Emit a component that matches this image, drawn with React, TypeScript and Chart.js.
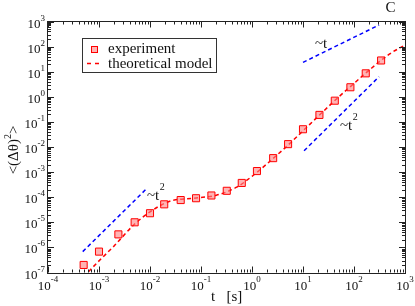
import React, { useEffect, useRef } from "react";
import { Chart, registerables } from "chart.js";

Chart.register(...registerables);

// ---- data ----
const expT = [5e-4, 1e-3, 2.4e-3, 5e-3, 1e-2, 1.9e-2, 4e-2, 8e-2, 0.16, 0.32, 0.63, 1.25, 2.6, 5.1, 10, 21, 42, 85, 170, 340];
const expY = [2e-7, 6.8e-7, 3.3e-6, 1e-5, 2.3e-5, 5.2e-5, 7.7e-5, 9.1e-5, 1.17e-4, 1.8e-4, 3.7e-4, 1.1e-3, 3.6e-3, 1.3e-2, 5.1e-2, 0.19, 0.7, 2.4, 8.6, 28];

const modelT = [5e-4, 1e-3, 2e-3, 5e-3, 1e-2, 2e-2, 3e-2, 5e-2, 0.1, 0.2, 0.5, 1, 2, 5, 10, 20, 50, 100, 200, 500, 1000];
const modelY = [6.8e-8, 2.9e-7, 1.17e-6, 8.5e-6, 2.6e-5, 5.9e-5, 7.8e-5, 8.5e-5, 9.8e-5, 1.2e-4, 2.5e-4, 6.8e-4, 2.2e-3, 1.15e-2, 4.4e-2, 0.17, 0.98, 3.4, 11.7, 51, 115];

const guide1T = [4.8e-4, 8.8e-3];
const guide1Y = [6.8e-7, 2.3e-4];
const guide2T = [10, 310];
const guide2Y = [23.5, 725];
const guide3T = [10.5, 310];
const guide3Y = [7.1e-3, 6.3];

const xTickExps = [-4, -3, -2, -1, 0, 1, 2, 3];
const yTickExps = [-7, -6, -5, -4, -3, -2, -1, 0, 1, 2, 3];

const seriesLabels = ["experiment", "theoretical model"];
const xTitle = ["t", "[s]"];
const yTitleParts = ["<(\u0394\u03b8)", "2", ">"];
const panelLabel = "C";

const pairs = (xs: number[], ys: number[]) => xs.map((x, i) => ({ x, y: ys[i] }));

const SERIF = "'Liberation Serif', 'DejaVu Serif', serif";
const RED = "#ff0000";
const BLUE = "#0000ff";
const PINK = "rgba(255, 130, 130, 0.6)";

const framePlugin = {
  id: "framePlugin",
  afterDraw(chart: any) {
    const { ctx, chartArea: a, scales } = chart;
    const xs = scales.x;
    const ys = scales.y;
    ctx.save();
    // frame
    ctx.strokeStyle = "#222";
    ctx.lineWidth = 1;
    ctx.strokeRect(Math.round(a.left) - 0.5, Math.round(a.top) - 0.5, Math.round(a.right - a.left) + 1, Math.round(a.bottom - a.top) + 1);

    // ticks
    ctx.beginPath();
    for (const e of xTickExps) {
      for (let m = 1; m <= 9; m++) {
        const v = m * Math.pow(10, e);
        if (v < xs.min * 0.999 || v > xs.max * 1.001) continue;
        const px = Math.round(xs.getPixelForValue(v)) + 0.5;
        const len = m === 1 ? 6 : 3;
        ctx.moveTo(px, a.bottom);
        ctx.lineTo(px, a.bottom - len);
        ctx.moveTo(px, a.top);
        ctx.lineTo(px, a.top + len);
      }
    }
    for (const e of yTickExps) {
      for (let m = 1; m <= 9; m++) {
        const v = m * Math.pow(10, e);
        if (v < ys.min * 0.999 || v > ys.max * 1.001) continue;
        const py = Math.round(ys.getPixelForValue(v)) + 0.5;
        const len = m === 1 ? 6 : 3;
        ctx.moveTo(a.left, py);
        ctx.lineTo(a.left + len, py);
        ctx.moveTo(a.right, py);
        ctx.lineTo(a.right - len, py);
      }
    }
    ctx.stroke();

    // tick labels
    ctx.fillStyle = "#111";
    ctx.textBaseline = "alphabetic";
    ctx.textAlign = "left";
    const big = `13px ${SERIF}`;
    const small = `9px ${SERIF}`;
    for (const e of xTickExps) {
      const px = xs.getPixelForValue(Math.pow(10, e));
      ctx.font = big;
      const w10 = ctx.measureText("10").width;
      ctx.font = small;
      const ex = String(e);
      const we = ctx.measureText(ex).width;
      const sx = px - (w10 + we) / 2;
      ctx.font = big;
      ctx.fillText("10", sx, a.bottom + 17);
      ctx.font = small;
      ctx.fillText(ex, sx + w10, a.bottom + 9);
    }
    for (const e of yTickExps) {
      const py = ys.getPixelForValue(Math.pow(10, e));
      ctx.font = big;
      const w10 = ctx.measureText("10").width;
      ctx.font = small;
      const ex = String(e);
      const we = ctx.measureText(ex).width;
      const sx = a.left - 3 - (w10 + we);
      ctx.font = big;
      ctx.fillText("10", sx, py + 6);
      ctx.font = small;
      ctx.fillText(ex, sx + w10, py - 1);
    }

    // axis titles
    ctx.font = `15px ${SERIF}`;
    ctx.fillText(xTitle[0], 211, 301);
    ctx.fillText(xTitle[1], 226.5, 301);

    ctx.save();
    ctx.translate(18, 150);
    ctx.rotate(-Math.PI / 2);
    ctx.font = `15px ${SERIF}`;
    const w1 = ctx.measureText(yTitleParts[0]).width;
    const w3 = ctx.measureText(yTitleParts[2]).width;
    ctx.font = `10px ${SERIF}`;
    const w2 = ctx.measureText(yTitleParts[1]).width;
    let sx = -(w1 + w2 + w3) / 2;
    ctx.font = `15px ${SERIF}`;
    ctx.fillText(yTitleParts[0], sx, 0);
    sx += w1;
    ctx.font = `10px ${SERIF}`;
    ctx.fillText(yTitleParts[1], sx, -7);
    sx += w2;
    ctx.font = `15px ${SERIF}`;
    ctx.fillText(yTitleParts[2], sx, 0);
    ctx.restore();

    // panel label
    ctx.font = `15px ${SERIF}`;
    ctx.textAlign = "center";
    ctx.fillText(panelLabel, 390.5, 12);
    ctx.textAlign = "left";

    // annotations
    const ann = (x: number, y: number, sup: string | null) => {
      ctx.font = `15px ${SERIF}`;
      ctx.fillText("~t", x, y);
      const w = ctx.measureText("~t").width;
      if (sup) {
        ctx.font = `10px ${SERIF}`;
        ctx.fillText(sup, x + w + 0.5, y - 10);
      }
    };
    ann(147, 200, "2");
    ann(315, 47.5, null);
    ann(340, 130, "2");

    // legend
    ctx.strokeStyle = "#333";
    ctx.lineWidth = 1;
    ctx.strokeRect(82.5, 38.5, 134, 34);
    ctx.fillStyle = PINK;
    ctx.fillRect(91.5, 46.5, 6, 6);
    ctx.strokeStyle = RED;
    ctx.strokeRect(91.5, 46.5, 6, 6);
    ctx.beginPath();
    ctx.setLineDash([4, 4]);
    ctx.lineWidth = 1.5;
    ctx.moveTo(87, 63.5);
    ctx.lineTo(101, 63.5);
    ctx.stroke();
    ctx.setLineDash([]);
    ctx.fillStyle = "#111";
    ctx.font = `15px ${SERIF}`;
    ctx.fillText(seriesLabels[0], 108, 53);
    ctx.fillText(seriesLabels[1], 108, 68);

    ctx.restore();
  },
};

export default function App() {
  const ref = useRef<HTMLCanvasElement | null>(null);
  useEffect(() => {
    if (!ref.current) return;
    const guide = (t: number[], y: number[]) => ({
      type: "line" as const,
      data: pairs(t, y),
      borderColor: BLUE,
      borderWidth: 1.5,
      borderDash: [4, 3],
      pointRadius: 0,
      fill: false,
    });
    const hiddenAxis = {
      type: "logarithmic" as const,
      ticks: { display: false },
      grid: { display: false, drawTicks: false },
      border: { display: false },
    };
    const chart = new Chart(ref.current, {
      type: "line",
      data: {
        datasets: [
          {
            label: seriesLabels[0],
            data: pairs(expT, expY),
            showLine: false,
            pointStyle: "rect",
            pointRadius: 5,
            pointBackgroundColor: PINK,
            pointBorderColor: RED,
            pointBorderWidth: 1,
          } as any,
          {
            label: seriesLabels[1],
            data: pairs(modelT, modelY),
            borderColor: RED,
            borderWidth: 1.5,
            borderDash: [4, 3],
            pointRadius: 0,
            cubicInterpolationMode: "monotone",
            fill: false,
          },
          guide(guide1T, guide1Y),
          guide(guide2T, guide2Y),
          guide(guide3T, guide3Y),
        ],
      },
      options: {
        responsive: false,
        animation: false,
        parsing: false as any,
        layout: { padding: { left: 48, right: 10, top: 21.5, bottom: 33.5 } },
        plugins: { legend: { display: false }, tooltip: { enabled: false } },
        scales: {
          x: {
            ...hiddenAxis,
            min: 1e-4,
            max: 1e3,
            afterFit: (s: any) => { s.height = 0; },
          },
          y: {
            ...hiddenAxis,
            min: 1e-7,
            max: 1e3,
            afterFit: (s: any) => { s.width = 0; },
          },
        },
      },
      plugins: [framePlugin],
    });
    return () => chart.destroy();
  }, []);
  return (
    <div style={{ position: "absolute", left: 0, top: 0, width: 415, height: 306, background: "#fff" }}>
      <canvas ref={ref} width={415} height={306} style={{ display: "block" }} />
    </div>
  );
}
